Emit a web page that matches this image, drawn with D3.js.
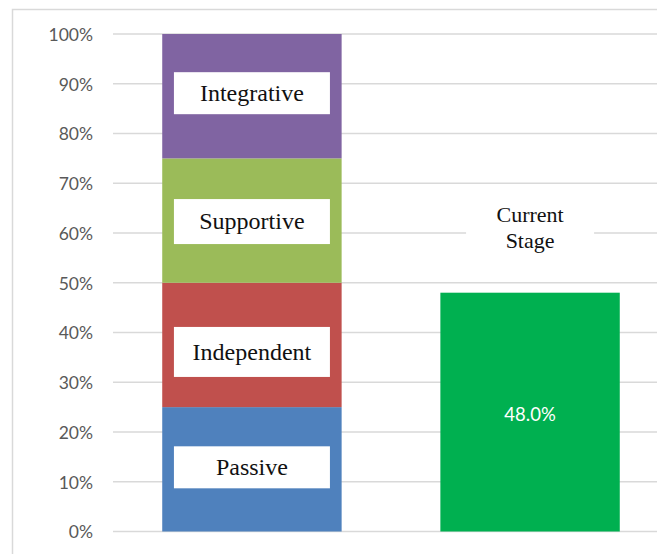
<!DOCTYPE html>
<html>
<head>
<meta charset="utf-8">
<script src="https://cdn.jsdelivr.net/npm/d3@7"></script>
<style>
  html, body { margin: 0; padding: 0; background: #fff; }
  svg { display: block; }
</style>
</head>
<body>
<div id="chart"></div>
<script>
// ---- data ----
const categories = ["Stages", "Current Stage"];
const stageNames = ["Passive", "Independent", "Supportive", "Integrative"];
const stageValues = [25, 25, 25, 25];
const stageColors = ["#4F81BD", "#C0504D", "#9BBB59", "#8064A2"];
const currentValue = [48.0];
const currentColor = "#00B050";
const tickValues = [0, 10, 20, 30, 40, 50, 60, 70, 80, 90, 100];

// label box layout tweaks (pixels): vertical shift and height per stage
const boxShift = [-2, 7, 1, -3];
const boxHeight = [42, 50, 45, 42];

// ---- layout ----
const W = 657, H = 554;
const svg = d3.select("#chart").append("svg").attr("width", W).attr("height", H);

// outer border
svg.append("rect")
  .attr("x", 12.5).attr("y", 9.5)
  .attr("width", W + 20).attr("height", H + 20)
  .attr("fill", "none").attr("stroke", "#D9D9D9").attr("stroke-width", 1.5);

const y = d3.scaleLinear().domain([0, 100]).range([531.5, 34]);
const x = d3.scaleBand().domain(categories).range([113, 669])
  .paddingInner(0.355).paddingOuter(0.177);

// gridlines
svg.append("g").selectAll("line").data(tickValues).join("line")
  .attr("x1", 113).attr("x2", W)
  .attr("y1", d => y(d)).attr("y2", d => y(d))
  .attr("stroke", "#D9D9D9").attr("stroke-width", 1.5);

// y axis labels
const yAxis = d3.axisLeft(y).tickValues(tickValues).tickFormat(d => d + "%").tickSize(0).tickPadding(0);
const ga = svg.append("g").attr("transform", "translate(93,0)").call(yAxis);
ga.select(".domain").remove();
ga.selectAll("text")
  .attr("font-family", "Lato, 'Open Sans', sans-serif")
  .attr("font-size", 17.5)
  .attr("fill", "#595959")
  .attr("dy", "0.36em");

// stacked bar
let cum = 0;
const segs = stageValues.map((v, i) => {
  const s = { name: stageNames[i], v0: cum, v1: cum + v, color: stageColors[i], i };
  cum += v;
  return s;
});
const bx = x(categories[0]), bw = x.bandwidth();
svg.append("g").selectAll("rect").data(segs).join("rect")
  .attr("x", bx).attr("width", bw)
  .attr("y", d => y(d.v1)).attr("height", d => y(d.v0) - y(d.v1))
  .attr("fill", d => d.color);

// label boxes
const lab = svg.append("g").selectAll("g").data(segs).join("g")
  .attr("transform", d => `translate(${bx + bw / 2},${y((d.v0 + d.v1) / 2) + boxShift[d.i]})`);
lab.append("rect")
  .attr("x", -78).attr("y", d => -boxHeight[d.i] / 2).attr("width", 156).attr("height", d => boxHeight[d.i])
  .attr("fill", "#fff");
lab.append("text")
  .attr("text-anchor", "middle").attr("dy", "0.33em")
  .attr("font-family", "'Liberation Serif', 'Times New Roman', serif")
  .attr("font-size", 24).attr("fill", "#111")
  .text(d => d.name);

// current stage bar
const cx = x(categories[1]);
svg.append("g").selectAll("rect").data(currentValue).join("rect")
  .attr("x", cx).attr("width", x.bandwidth())
  .attr("y", d => y(d)).attr("height", d => y(0) - y(d))
  .attr("fill", currentColor);
svg.append("g").selectAll("text").data(currentValue).join("text")
  .attr("x", cx + x.bandwidth() / 2)
  .attr("y", d => (y(d) + y(0)) / 2 + 2)
  .attr("dy", "0.36em")
  .attr("text-anchor", "middle")
  .attr("font-family", "Lato, 'Open Sans', sans-serif")
  .attr("font-size", 18.5).attr("fill", "#fff")
  .text(d => d.toFixed(1) + "%");

// "Current Stage" label
const cg = svg.append("g").attr("transform", `translate(${cx + x.bandwidth() / 2},${y(60)})`);
cg.append("rect").attr("x", -64).attr("y", -30).attr("width", 128).attr("height", 56).attr("fill", "#fff");
const ct = cg.append("text").attr("text-anchor", "middle")
  .attr("font-family", "'Liberation Serif', 'Times New Roman', serif")
  .attr("font-size", 22).attr("fill", "#111");
ct.append("tspan").attr("x", 0).attr("y", -11).text("Current");
ct.append("tspan").attr("x", 0).attr("y", 15).text("Stage");
</script>
</body>
</html>
